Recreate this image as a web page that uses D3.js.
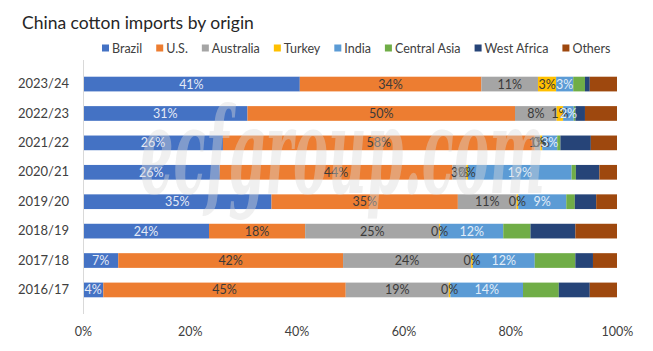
<!DOCTYPE html>
<html>
<head>
<meta charset="utf-8">
<script src="https://cdn.jsdelivr.net/npm/d3@7"></script>
<style>
  body { margin: 0; background: #fff; }
  svg { font-family: Lato, "Open Sans", sans-serif; }
</style>
</head>
<body>
<div id="chart"></div>
<script>
// Share of China cotton imports by origin (%)
const years = ['2023/24', '2022/23', '2021/22', '2020/21', '2019/20', '2018/19', '2017/18', '2016/17'];
const brazil      = [40.6, 30.8, 26.2, 25.6, 35.3, 23.6, 6.6, 3.8];
const us          = [34.0, 50.1, 58.4, 43.6, 34.9, 18.0, 42.1, 45.4];
const australia   = [10.6, 7.8, 1.0, 2.6, 11.0, 25.1, 24.0, 19.3];
const turkey      = [3.4, 1.2, 0.4, 0.3, 0.3, 0.2, 0.3, 0.3];
const india       = [3.2, 2.0, 2.8, 19.4, 9.0, 11.8, 11.6, 13.6];
const centralAsia = [2.2, 0.3, 0.6, 0.8, 1.6, 5.1, 7.6, 6.7];
const westAfrica  = [0.9, 1.8, 5.7, 4.4, 4.0, 8.4, 3.3, 5.8];
const others      = [5.1, 6.0, 4.9, 3.3, 3.9, 7.8, 4.5, 5.1];

const seriesNames = ['Brazil', 'U.S.', 'Australia', 'Turkey', 'India', 'Central Asia', 'West Africa', 'Others'];
const seriesValues = [brazil, us, australia, turkey, india, centralAsia, westAfrica, others];
const xTicks = [0, 0.2, 0.4, 0.6, 0.8, 1];

const colors = ['#4472c4', '#ed7d31', '#a5a5a5', '#ffc000', '#5b9bd5', '#70ad47', '#264478', '#9e480e'];
// label colour per series; null = no label
const labelColors = ['#e4eaf6', '#3a3a3a', '#3a3a3a', '#3a3a3a', '#e1edf8', null, null, null];

const width = 653, height = 351;
const margin = { top: 62, right: 36, bottom: 39, left: 83 };

const rows = years.map((y, i) => {
  const r = { year: y };
  seriesNames.forEach((s, j) => { r[s] = seriesValues[j][i]; });
  return r;
});

const stacked = d3.stack()
  .keys(seriesNames)
  .offset(d3.stackOffsetExpand)(rows);

const x = d3.scaleLinear().domain([0, 1]).range([margin.left, width - margin.right]);
const y = d3.scaleBand().domain(years).range([margin.top, height - margin.bottom]).padding(0.5);

const svg = d3.select('#chart').append('svg')
  .attr('width', width)
  .attr('height', height);

// title
svg.append('text')
  .attr('x', 22).attr('y', 29)
  .attr('font-size', 17.5)
  .attr('fill', '#262626')
  .text('China cotton imports by origin');

// legend
const legend = svg.append('g').attr('transform', 'translate(102,48)');
let lx = 0;
seriesNames.forEach((s, i) => {
  const g = legend.append('g').attr('transform', `translate(${lx},0)`);
  g.append('rect')
    .attr('x', 0).attr('y', -3.5)
    .attr('width', 7).attr('height', 7)
    .attr('fill', colors[i]);
  const t = g.append('text')
    .attr('x', 10).attr('y', 4.5)
    .attr('font-size', 12.5)
    .attr('fill', '#404040')
    .text(s);
  lx += 10 + t.node().getComputedTextLength() + 14;
});

// bars
const layer = svg.append('g').selectAll('g')
  .data(stacked)
  .join('g')
  .attr('fill', (d, i) => colors[i]);

layer.selectAll('rect')
  .data(d => d)
  .join('rect')
  .attr('x', d => x(d[0]))
  .attr('y', d => y(d.data.year))
  .attr('width', d => x(d[1]) - x(d[0]))
  .attr('height', y.bandwidth());

// data labels
stacked.forEach((ser, i) => {
  if (!labelColors[i]) return;
  svg.append('g').selectAll('text')
    .data(ser)
    .join('text')
    .attr('x', d => (x(d[0]) + x(d[1])) / 2)
    .attr('y', d => y(d.data.year) + y.bandwidth() / 2 + 4.5)
    .attr('text-anchor', 'middle')
    .attr('font-size', 12.5)
    .attr('fill', labelColors[i])
    .text(d => Math.round(d.data[ser.key]) + '%');
});

// watermark
svg.append('text')
  .attr('x', 140).attr('y', 193)
  .attr('font-family', '"DejaVu Serif", serif')
  .attr('font-style', 'italic')
  .attr('font-weight', 'bold')
  .attr('font-size', 120)
  .attr('textLength', 405)
  .attr('lengthAdjust', 'spacingAndGlyphs')
  .attr('fill', '#dadada')
  .attr('opacity', 0.4)
  .text('ecfgroup.com');

// y axis
const yAxis = svg.append('g')
  .attr('transform', `translate(${margin.left},0)`)
  .call(d3.axisLeft(y).tickSize(0).tickPadding(14));
yAxis.select('.domain').attr('stroke', '#d9d9d9').attr('d', `M0.5,${margin.top - 2}V${height - margin.bottom + 2}`);
yAxis.selectAll('text').attr('font-size', 13).attr('fill', '#404040').attr('font-family', 'Lato, sans-serif');

// x axis labels
const xAxis = svg.append('g')
  .attr('transform', `translate(0,${height - margin.bottom})`)
  .call(d3.axisBottom(x).tickValues(xTicks).tickFormat(d3.format('.0%')).tickSize(0).tickPadding(15));
xAxis.select('.domain').remove();
xAxis.selectAll('text').attr('font-size', 12.5).attr('fill', '#404040').attr('font-family', 'Lato, sans-serif');
</script>
</body>
</html>
